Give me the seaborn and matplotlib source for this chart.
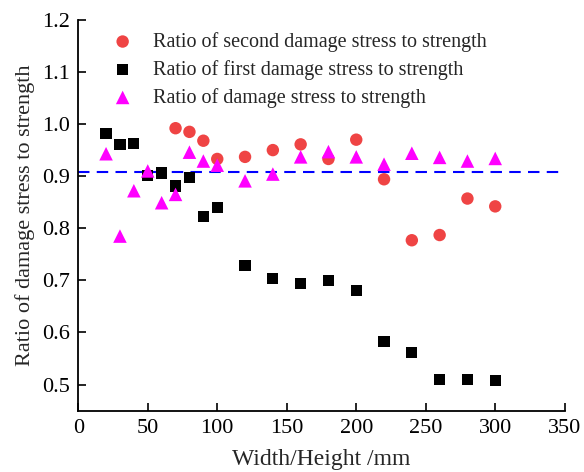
import numpy as np
import pandas as pd
import matplotlib
matplotlib.use("Agg")
import matplotlib.pyplot as plt
import seaborn as sns

# Specimen width/height (mm)
size_second = [70, 80, 90, 100, 120, 140, 160, 180, 200, 220, 240, 260, 280, 300]
ratio_second = [0.992, 0.985, 0.968, 0.933, 0.937, 0.950, 0.961, 0.933, 0.970, 0.894,
                0.777, 0.787, 0.857, 0.842]

size_first = [20, 30, 40, 50, 60, 70, 80, 90, 100, 120, 140, 160, 180, 200, 220, 240,
              260, 280, 300]
ratio_first = [0.982, 0.961, 0.962, 0.902, 0.906, 0.881, 0.897, 0.822, 0.839, 0.729,
               0.704, 0.694, 0.699, 0.681, 0.583, 0.562, 0.509, 0.509, 0.507]

size_damage = [20, 30, 40, 50, 60, 70, 80, 90, 100, 120, 140, 160, 180, 200, 220, 240,
               260, 280, 300]
ratio_damage = [0.943, 0.785, 0.872, 0.910, 0.849, 0.865, 0.946, 0.929, 0.921, 0.891,
                0.904, 0.937, 0.947, 0.937, 0.923, 0.944, 0.936, 0.929, 0.934]

mean_ratio = 0.908
mean_line_x = [0, 346]

labels = ["Ratio of second damage stress to strength",
          "Ratio of first damage stress to strength",
          "Ratio of damage stress to strength"]

sns.set_style("ticks")
plt.rcParams["font.family"] = ["Liberation Serif", "DejaVu Serif"]
plt.rcParams["mathtext.fontset"] = "stix"

fig = plt.figure(figsize=(5.84, 4.72), dpi=100)
ax = fig.add_axes([0.134, 0.130, 0.833, 0.828])

sns.scatterplot(x=size_second, y=ratio_second, ax=ax, marker="o", s=80,
                color="#EF4444", edgecolor="none", label=labels[0], zorder=3)
sns.scatterplot(x=size_first, y=ratio_first, ax=ax, marker="s", s=64,
                color="black", edgecolor="none", label=labels[1], zorder=3)
sns.scatterplot(x=size_damage, y=ratio_damage, ax=ax, marker="^", s=95,
                color="#FF00FF", edgecolor="none", label=labels[2], zorder=4)

ax.plot(mean_line_x, [mean_ratio, mean_ratio], color="#0000FF", lw=1.5,
        ls=(0, (5.5, 3.5)), zorder=2)

ax.set_xlim(0, 350)
ax.set_ylim(0.45, 1.2)
ax.set_xticks(np.arange(0, 351, 50))
ax.set_yticks(np.round(np.arange(0.5, 1.21, 0.1), 1))

sns.despine(ax=ax)
for side in ("left", "bottom"):
    ax.spines[side].set_linewidth(1.3)
    ax.spines[side].set_color("black")
ax.tick_params(direction="in", length=6, width=1.2, labelsize=16, colors="black",
               pad=6)

ax.set_xlabel("Width/Height /mm", fontsize=17, labelpad=8)
ax.set_ylabel("Ratio of damage stress to strength", fontsize=16, labelpad=5)

leg = ax.legend(loc="upper left", bbox_to_anchor=(0.025, 1.0), frameon=False,
                fontsize=14.5, handletextpad=0.5, labelspacing=0.4,
                markerscale=1.0, borderaxespad=0.2)

fig.savefig("out.png", dpi=100)
